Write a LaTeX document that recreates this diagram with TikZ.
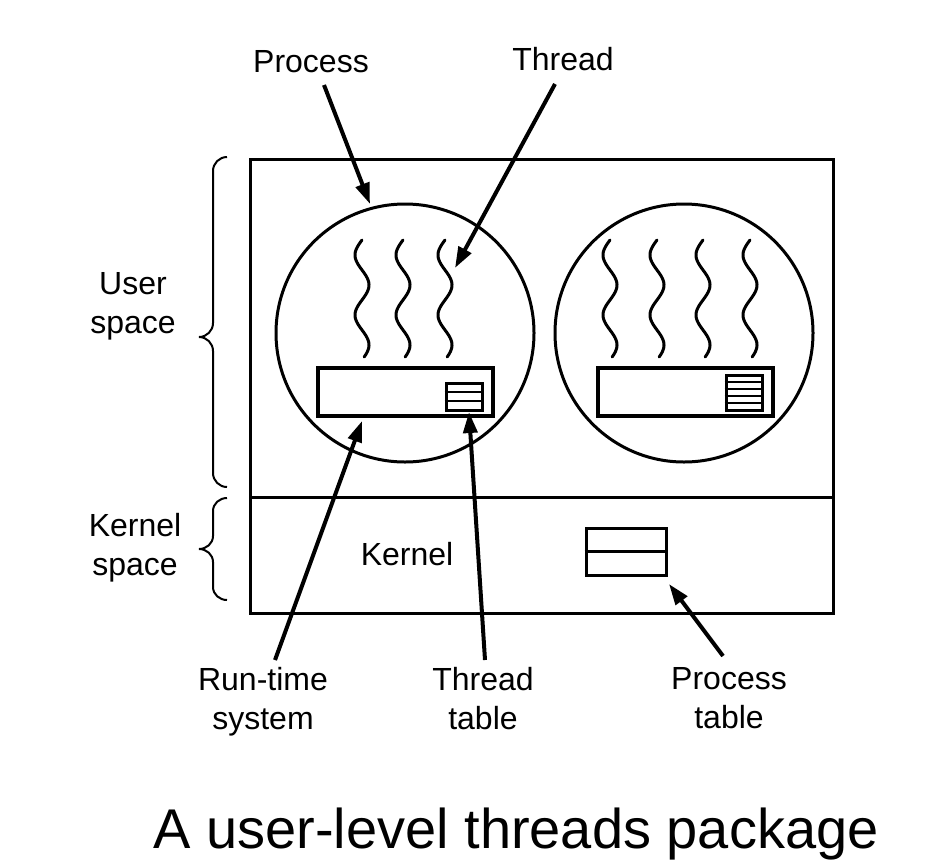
\documentclass[tikz,border=0pt]{standalone}
\usepackage{fontspec}
\setmainfont{Liberation Sans}
\usetikzlibrary{arrows.meta}
\begin{document}
\begin{tikzpicture}[x=1pt,y=-1pt,
  lbl/.style={font=\fontsize{32}{39}\selectfont, align=center, inner sep=0pt},
  box/.style={draw, rectangle, line width=3.5pt, inner sep=0pt},
  proc/.style={draw, circle, line width=3pt, minimum size=258pt, inner sep=0pt},
  ptr/.style={line width=4pt, -{Triangle[length=21pt,width=14pt]}},
  brc/.style={line width=2pt},
  wave/.style={line width=3pt, line cap=round}
]
\useasboundingbox (0,0) rectangle (926,865);

% outer system box
\node[draw, rectangle, line width=3pt, inner sep=0pt, minimum width=583pt, minimum height=454pt] (sys) at (541.5,386) {};
\coordinate (divL) at (250,497);
\coordinate (divR) at (833,497);
\draw[line width=3pt] (divL) -- (divR);

% processes
\node[proc] (p1) at (405,333) {};
\node[proc] (p2) at (684,333) {};

% run-time systems
\node[box, minimum width=175pt, minimum height=48pt] (rt1) at (405.5,392) {};
\node[box, minimum width=175pt, minimum height=48pt] (rt2) at (685.5,392) {};

% thread tables
\node[box, line width=3pt, minimum width=36pt, minimum height=27pt] (tt1) at (464,396.5) {};
\draw[line width=2.5pt] (tt1.west |- 0,392) -- (tt1.east |- 0,392)
                        (tt1.west |- 0,401) -- (tt1.east |- 0,401);
\node[box, line width=3pt, minimum width=36pt, minimum height=35pt] (tt2) at (744,392.5) {};
\foreach \yy in {382,389,396,403}
  \draw[line width=2.5pt] (tt2.west |- 0,\yy) -- (tt2.east |- 0,\yy);

% process table in kernel
\node[box, line width=3pt, minimum width=80pt, minimum height=47pt] (pt) at (626,551.5) {};
\draw[line width=3pt] (pt.west) -- (pt.east);

% threads
\foreach \cx in {362,403,445}
  \draw[wave] plot[domain=0:117, samples=90, smooth] ({\cx - 7*sin(6*\x)}, {240+\x});
\foreach \cx in {610,657,703,750}
  \draw[wave] plot[domain=0:117, samples=90, smooth] ({\cx - 7*sin(6*\x)}, {240+\x});

% braces
\draw[brc] (227,157) to[out=180,in=90] (213,171) -- (213,323) to[out=-90,in=0] (199,337)
           to[out=0,in=90] (213,351) -- (213,473) to[out=-90,in=180] (227,487);
\draw[brc] (227,498) to[out=180,in=90] (213,511) -- (213,536) to[out=-90,in=0] (199,549)
           to[out=0,in=90] (213,562) -- (213,587) to[out=-90,in=180] (227,600);

% labels
\node[lbl, anchor=base] (lproc) at (311,72) {Process};
\node[lbl, anchor=base] (lthr) at (563,70) {Thread};
\node[lbl, anchor=north] (luser) at (133,272) {User\\space};
\node[lbl, anchor=north] (lkern) at (135,513) {Kernel\\space};
\node[lbl, anchor=base] (lk) at (407,565) {Kernel};
\node[lbl, anchor=north] (lrt) at (263,667) {Run-time\\system};
\node[lbl, anchor=north] (ltt) at (483,667) {Thread\\table};
\node[lbl, anchor=north] (lpt) at (729,667) {Process\\table};
\node[font=\fontsize{56}{60}\selectfont, anchor=base, inner sep=0pt] (cap) at (516,848) {A user-level threads package};

% arrows
\coordinate (aProcS) at (324,85);
\coordinate (aProcE) at (370,204);
\coordinate (aThrS) at (555,84);
\coordinate (aThrE) at (455,268);
\coordinate (aRtS) at (275,660);
\coordinate (aRtE) at (362,421);
\coordinate (aTtS) at (485,660);
\coordinate (aTtE) at (469,412);
\coordinate (aPtS) at (723,656);
\coordinate (aPtE) at (669,584);
\draw[ptr] (aProcS) -- (aProcE);
\draw[ptr] (aThrS) -- (aThrE);
\draw[ptr] (aRtS) -- (aRtE);
\draw[ptr] (aTtS) -- (aTtE);
\draw[ptr] (aPtS) -- (aPtE);
\end{tikzpicture}
\end{document}
